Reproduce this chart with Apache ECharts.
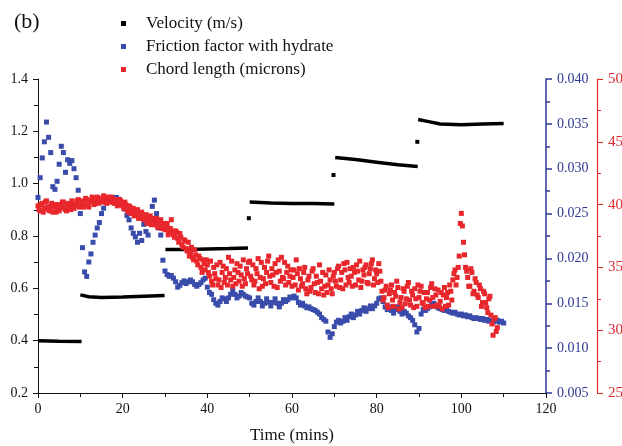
<!DOCTYPE html>
<html><head><meta charset="utf-8">
<script src="https://cdn.jsdelivr.net/npm/echarts@6/dist/echarts.min.js"></script>
<style>html,body{margin:0;padding:0;background:#fff}#c{width:622px;height:446px}</style>
</head><body><div id="c"></div>
<script>
// ---- data ----
const sampleStep = 0.5; // minutes between logged samples

// Friction factor with hydrate (right blue axis), rows of 10 min
const fric0 = [0.0268,0.0290,0.0312,0.0330,0.0352,0.0335,0.0318,0.0280,0.0277,0.0286,0.0305,0.0325,0.0318,0.0296,0.0310,0.0306,0.0309,0.0300,0.0290,0.0276];
const fric1 = [0.0250,0.0212,0.0185,0.0180,0.0196,0.0205,0.0218,0.0226,0.0234,0.0240,0.0250,0.0256,0.0263,0.0266,0.0264,0.0268,0.0266,0.0268,0.0266,0.0262];
const fric2 = [0.0260,0.0255,0.0248,0.0243,0.0234,0.0228,0.0224,0.0218,0.0228,0.0220,0.0238,0.0230,0.0226,0.0242,0.0258,0.0265,0.0250,0.0234,0.0226,0.0198];
const fric3 = [0.0186,0.0182,0.0180,0.0181,0.0178,0.0174,0.0168,0.0170,0.0173,0.0175,0.0172,0.0174,0.0176,0.0174,0.0171,0.0169,0.0171,0.0173,0.0176,0.0178];
const fric4 = [0.0168,0.0162,0.0160,0.0154,0.0150,0.0148,0.0152,0.0156,0.0155,0.0152,0.0156,0.0160,0.0165,0.0160,0.0156,0.0158,0.0162,0.0160,0.0158,0.0157];
const fric5 = [0.0156,0.0150,0.0148,0.0152,0.0156,0.0152,0.0147,0.0150,0.0155,0.0151,0.0147,0.0151,0.0155,0.0150,0.0146,0.0150,0.0154,0.0152,0.0154,0.0157];
const fric6 = [0.0156,0.0158,0.0156,0.0151,0.0148,0.0150,0.0147,0.0145,0.0146,0.0144,0.0143,0.0142,0.0140,0.0138,0.0134,0.0132,0.0130,0.0118,0.0112,0.0116];
const fric7 = [0.0124,0.0129,0.0131,0.0128,0.0130,0.0134,0.0131,0.0135,0.0138,0.0134,0.0137,0.0141,0.0138,0.0142,0.0145,0.0141,0.0144,0.0147,0.0144,0.0147];
const fric8 = [0.0150,0.0155,0.0156,0.0152,0.0146,0.0143,0.0146,0.0142,0.0139,0.0143,0.0146,0.0141,0.0138,0.0141,0.0139,0.0136,0.0134,0.0131,0.0126,0.0118];
const fric9 = [0.0122,0.0138,0.0143,0.0142,0.0144,0.0146,0.0149,0.0150,0.0147,0.0145,0.0144,0.0143,0.0142,0.0143,0.0141,0.0140,0.0139,0.0140,0.0138,0.0137];
const fric10 = [0.0138,0.0136,0.0137,0.0135,0.0136,0.0134,0.0133,0.0134,0.0133,0.0132,0.0133,0.0131,0.0132,0.0130,0.0131,0.0129,0.0130,0.0131,0.0129,0.0130,0.0128];

// Chord length in microns (far right red axis), samples on the half minute, rows of 10 min
const chord0 = [39.9,39.5,40.1,39.7,40.3,39.6,39.9,39.4,40.0,39.7,39.5,39.9,40.2,39.6,40.0,39.8,40.3,39.7,40.1,40.4];
const chord1 = [39.9,40.3,40.0,40.4,39.8,40.2,40.5,40.1,40.6,40.2,40.4,40.7,40.3,40.6,40.2,40.5,40.1,40.4,40.0,40.3];
const chord2 = [39.9,40.2,39.6,39.9,39.3,39.7,39.2,39.6,39.0,39.4,38.8,39.2,38.6,39.1,38.7,38.4,38.9,38.5,38.8,38.3];
const chord3 = [38.0,38.5,37.8,38.8,37.6,37.9,37.3,37.7,36.8,37.2,36.5,37.0,36.2,35.8,36.4,35.5,35.9,35.0,35.6,34.8];
const chord4 = [35.2,34.3,33.9,35.0,34.1,33.6,35.4,34.6,33.8,34.9,35.8,34.0,33.5,34.8,35.3,33.9,34.4,35.6,33.7,34.5];
const chord5 = [35.5,34.0,33.6,34.9,35.7,34.2,33.5,35.0,34.6,35.9,33.8,34.4,35.3,33.4,34.7,35.8,34.1,33.6,35.1,34.3];
const chord6 = [33.5,34.8,35.6,33.2,34.1,33.7,35.0,32.9,34.3,33.4,34.9,33.0,33.8,35.2,33.3,32.8,34.4,33.6,34.0,32.9];
const chord7 = [34.6,33.5,35.1,34.0,33.3,34.8,35.4,33.8,34.3,35.0,33.6,34.7,35.5,33.9,34.4,35.2,33.7,34.9,35.6,34.1];
const chord8 = [34.5,35.3,33.9,32.4,33.2,32.0,32.9,33.6,31.9,32.7,33.4,32.2,31.8,33.1,32.5,33.8,32.0,32.8,33.3,31.9];
const chord9 = [32.6,33.5,32.1,31.8,33.0,32.4,33.7,31.9,32.8,33.2,32.3,31.7,33.4,32.6,32.0,33.1,34.0,34.8,34.2,35.9];
const chord10 = [39.3,37.0,35.0,34.2,33.5,34.6,33.1,33.8,32.6,33.3,32.2,32.9,31.8,32.5,31.2,29.6,31.0,30.2];
// Chord length samples taken a quarter minute later (t = 0.25, 0.75, ...)
const chordMid0 = [39.6,40.0,39.4,40.2,39.8,39.5,40.1,39.8,39.4,40.0,39.7,40.2,39.8,39.5,40.1,39.6,40.0,39.9,40.3,39.8];
const chordMid1 = [40.2,39.8,40.5,40.0,40.3,40.6,40.0,40.4,40.1,40.5,40.2,40.5,40.1,40.4,40.6,40.2,40.3,39.9,40.4,40.1];
const chordMid2 = [39.7,40.0,39.4,39.8,39.5,39.1,39.4,38.9,39.3,38.9,39.0,38.5,38.9,38.4,38.9,38.6,38.2,38.6,38.1,38.5];
const chordMid3 = [38.2,37.6,38.1,37.9,37.4,37.8,37.0,37.4,36.6,37.1,36.3,35.9,36.6,35.6,36.0,35.2,35.7,34.6,35.3,35.6];
const chordMid4 = [34.6,35.5,33.6,34.5,35.2,34.0,33.4,35.1,34.2,33.6,34.5,35.5,34.2,33.7,34.6,35.1,33.5,34.1,34.9,35.4];
const chordMid5 = [34.3,35.2,33.9,34.5,33.3,35.4,34.1,33.7,35.5,34.3,34.9,33.5,34.6,35.6,33.9,34.2,35.4,34.6,33.8,34.8];
const chordMid6 = [34.2,33.6,34.5,34.9,33.5,34.6,33.3,34.0,33.1,34.7,33.7,34.3,32.9,33.9,34.6,33.5,33.0,34.8,33.3,34.3];
const chordMid7 = [33.9,34.9,33.4,34.6,35.3,33.6,34.2,34.9,33.5,34.6,35.2,34.0,33.4,34.8,35.0,33.8,34.5,35.3,33.6,34.8];
const chordMid8 = [33.8,34.7,33.1,32.6,33.5,31.8,33.2,32.4,33.0,33.9,31.7,32.6,33.3,32.1,33.5,32.4,33.1,31.8,32.5,33.6];
const chordMid9 = [33.1,32.2,33.0,32.5,31.9,33.4,32.6,33.3,32.0,31.9,33.0,32.8,31.9,33.0,33.6,32.4,34.5,33.6,35.0,38.5];
const chordMid10 = [38.3,36.0,34.7,33.5,34.9,32.9,34.1,32.8,33.6,31.9,33.1,32.2,31.4,32.7,30.5,30.9,29.9];

// Velocity (left axis): plateau segments, null = break between steps
const velTime  = [0,5,10.3, 10.3, 10.0,12,15,20,25,29.9, 30, 30.1,35,40,45,49.6, 49.6, 50.0,55,60,65,70.0, 70, 70.2,75,80,85,89.7, 89.7, 89.8,92,95,100,105,110];
const velValue = [0.400,0.398,0.397, null, 0.575,0.568,0.565,0.567,0.570,0.573, null, 0.748,0.748,0.750,0.752,0.754, null, 0.930,0.926,0.924,0.924,0.922, null, 1.100,1.092,1.082,1.072,1.066, null, 1.245,1.238,1.228,1.225,1.228,1.230];
const velJumpTime  = [49.8, 69.8, 89.6];
const velJumpValue = [0.868, 1.033, 1.160];

const seriesNames = ['Velocity (m/s)', 'Friction factor with hydrate', 'Chord length (microns)'];

// ---- build ----
const friction = [].concat(fric0,fric1,fric2,fric3,fric4,fric5,fric6,fric7,fric8,fric9,fric10);
const chord = [].concat(chord0,chord1,chord2,chord3,chord4,chord5,chord6,chord7,chord8,chord9,chord10);
const chordMid = [].concat(chordMid0,chordMid1,chordMid2,chordMid3,chordMid4,chordMid5,chordMid6,chordMid7,chordMid8,chordMid9,chordMid10);
const fricData = friction.map((v,i)=>[i*sampleStep, v]);
const chordData = chord.map((v,i)=>[i*sampleStep, v])
  .concat(chordMid.map((v,i)=>[i*sampleStep + sampleStep/2, v]));
const velData = velTime.map((t,i)=> velValue[i]===null ? '-' : [t, velValue[i]]);
const velJumps = velJumpTime.map((t,i)=>[t, velJumpValue[i]]);

const FONT = '"Liberation Serif","Times New Roman",serif';
const BLUE_AX = '#2e3a94', RED_AX = '#dc2a2e';
const BLUE = '#3a4cab', RED = '#e8272c';

const chart = echarts.init(document.getElementById('c'), null, {renderer:'canvas'});
chart.setOption({
  animation:false,
  backgroundColor:'#fff',
  title:{text:'(b)', left:9, top:6, textStyle:{fontFamily:FONT, fontSize:22, fontWeight:'normal', color:'#111'}},
  legend:{
    orient:'vertical', left:116, top:10, itemGap:6, itemWidth:5, itemHeight:5,
    data:[{name:seriesNames[0],icon:'rect'},{name:seriesNames[1],icon:'rect'},{name:seriesNames[2],icon:'rect'}],
    textStyle:{fontFamily:FONT, fontSize:17, color:'#111', lineHeight:17, padding:[0,0,0,15]}
  },
  grid:{left:38, right:76, top:79, bottom:53, containLabel:false, outerBoundsMode:'none'},
  xAxis:{
    type:'value', min:0, max:120, interval:20,
    name:'Time (mins)', nameLocation:'middle', nameGap:34,
    nameTextStyle:{fontFamily:FONT, fontSize:17, color:'#111'},
    axisLine:{lineStyle:{color:'#111', width:1}},
    axisTick:{show:true, length:5, lineStyle:{color:'#111'}},
    minorTick:{show:true, splitNumber:2, length:4, lineStyle:{color:'#111'}},
    splitLine:{show:false},
    axisLabel:{fontFamily:FONT, fontSize:14, color:'#111', margin:9}
  },
  yAxis:[
    {type:'value', min:0.2, max:1.4, interval:0.2, position:'left',
     axisLine:{show:true, lineStyle:{color:'#111'}},
     axisTick:{show:true, length:5, lineStyle:{color:'#111'}},
     minorTick:{show:true, splitNumber:2, length:4, lineStyle:{color:'#111'}},
     splitLine:{show:false},
     axisLabel:{fontFamily:FONT, fontSize:14, color:'#111', margin:10, formatter:v=>v.toFixed(1)}},
    {type:'value', min:0.005, max:0.040, interval:0.005, position:'right',
     axisLine:{show:true, lineStyle:{color:BLUE_AX, width:1.5}},
     axisTick:{show:true, length:6, lineStyle:{color:BLUE_AX, width:1.5}},
     minorTick:{show:true, splitNumber:2, length:4, lineStyle:{color:BLUE_AX, width:1.5}},
     splitLine:{show:false},
     axisLabel:{fontFamily:FONT, fontSize:14, color:BLUE_AX, margin:11, formatter:v=>v.toFixed(3)}},
    {type:'value', min:25, max:50, interval:5, position:'right', offset:51,
     axisLine:{show:true, lineStyle:{color:RED_AX, width:1.2}},
     axisTick:{show:true, length:6, lineStyle:{color:RED_AX}},
     minorTick:{show:true, splitNumber:2, length:4, lineStyle:{color:RED_AX}},
     splitLine:{show:false},
     axisLabel:{fontFamily:FONT, fontSize:15, color:RED_AX, margin:11}}
  ],
  series:[
    {name:seriesNames[0], type:'line', yAxisIndex:0, data:velData, showSymbol:false, symbol:'rect',
     connectNulls:false, lineStyle:{color:'#000', width:3.5}, itemStyle:{color:'#000'}, z:2},
    {name:seriesNames[0], type:'scatter', yAxisIndex:0, data:velJumps, symbol:'rect', symbolSize:4,
     itemStyle:{color:'#000', opacity:1}, z:2},
    {name:seriesNames[1], type:'scatter', yAxisIndex:1, data:fricData, symbol:'rect', symbolSize:5,
     itemStyle:{color:BLUE, opacity:1}, z:3},
    {name:seriesNames[2], type:'scatter', yAxisIndex:2, data:chordData, symbol:'rect', symbolSize:5,
     itemStyle:{color:RED, opacity:1}, z:4}
  ]
});
</script></body></html>
